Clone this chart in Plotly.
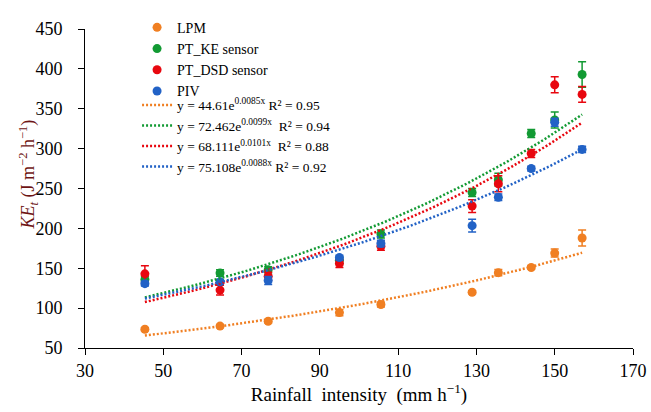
import numpy as np
import plotly.graph_objects as go

# Rainfall intensity (mm h^-1) for each simulated event
intensity = [45.3, 64.5, 76.8, 95.0, 105.6, 128.9, 135.6, 144.0, 150.0, 157.0]

# Kinetic energy flux (J m^-2 h^-1) and error bars per method
lpm = [73.5, 77.5, 83.5, 94.4, 104.5, 119.9, 144.5, 151.0, 169.0, 188.0]
lpm_err = [2, 2, 2, 4, 3, 2, 4, 2, 5, 10]

pt_ke = [136.0, 144.0, 148.0, 160.0, 193.0, 245.0, 261.0, 319.0, 336.0, 393.0]
pt_ke_err = [4, 4, 4, 4, 5, 5, 8, 5, 10, 16]

pt_dsd = [143.0, 122.6, 140.0, 156.0, 177.5, 228.0, 256.0, 294.0, 380.0, 368.0]
pt_dsd_err = [10, 6, 5, 5, 5, 8, 10, 5, 10, 10]

piv = [130.7, 133.0, 134.7, 163.4, 181.0, 203.4, 239.0, 275.0, 333.0, 299.0]
piv_err = [3, 3, 5, 3, 4, 8, 4, 3, 5, 4]

# Exponential trendline coefficients y = a * exp(b x) and R^2
fit_a = [44.61, 72.462, 68.111, 75.108]
fit_b = [0.0085, 0.0099, 0.0101, 0.0088]
fit_a_txt = ["44.61", "72.462", "68.111", "75.108"]
fit_b_txt = ["0.0085", "0.0099", "0.0101", "0.0088"]
fit_r2 = ["0.95", "0.94", "0.88", "0.92"]

names = ["LPM", "PT_KE sensor", "PT_DSD sensor", "PIV"]
series = [lpm, pt_ke, pt_dsd, piv]
errors = [lpm_err, pt_ke_err, pt_dsd_err, piv_err]
colors = ["#F07F22", "#129A33", "#E8070F", "#2262C6"]

FONT = "Liberation Serif"

fig = go.Figure()

for name, ys, err, col in zip(names, series, errors, colors):
    fig.add_trace(go.Scatter(
        x=intensity, y=ys, mode="markers", name=name, legend="legend",
        marker=dict(color=col, size=9),
        error_y=dict(type="data", array=err, visible=True,
                     color=col, thickness=1.5, width=4),
    ))

xs = np.linspace(min(intensity), max(intensity), 120)
gaps = ["\u00a0", "\u00a0\u00a0", "\u00a0\u00a0", "\u00a0"]
for a, b, at, bt, r2, col, gap in zip(fit_a, fit_b, fit_a_txt, fit_b_txt,
                                       fit_r2, colors, gaps):
    label = f"y = {at}e<sup>{bt}x</sup>{gap}R² = {r2}"
    fig.add_trace(go.Scatter(
        x=xs, y=a * np.exp(b * xs), mode="lines", name=label, legend="legend2",
        line=dict(color=col, width=2.5, dash="2px,2px"),
    ))

axis_common = dict(
    showline=True, linecolor="black", linewidth=1,
    ticks="outside", ticklen=6, tickcolor="black",
    showgrid=False, zeroline=False, automargin=False,
    tickfont=dict(family=FONT, size=18, color="black"),
)

legend_common = dict(
    xanchor="left", yanchor="top", bgcolor="rgba(0,0,0,0)", tracegroupgap=0,
)

fig.update_layout(
    width=651, height=412,
    margin=dict(l=85, r=18, t=17, b=64),
    paper_bgcolor="white", plot_bgcolor="white",
    font=dict(family=FONT, color="black"),
    showlegend=True,
    legend=dict(x=0.095, y=1.054,
                font=dict(family=FONT, size=14, color="black"), **legend_common),
    legend2=dict(x=0.095, y=0.810,
                 font=dict(family=FONT, size=13.5, color="black"), **legend_common),
    xaxis=dict(
        range=[30, 170], tick0=30, dtick=20,
        title=dict(text="Rainfall\u00a0\u00a0intensity\u00a0\u00a0(mm h<sup>−1</sup>)",
                   font=dict(family=FONT, size=19, color="black"), standoff=4),
        **axis_common,
    ),
    yaxis=dict(
        range=[50, 450], tick0=50, dtick=50, ticklabelstandoff=12,
        **axis_common,
    ),
    annotations=[dict(
        text="<i>KE<sub>t</sub></i> (J m<sup>−2</sup> h<sup>−1</sup>)",
        xref="paper", yref="paper", x=-0.104, y=0.544,
        xanchor="center", yanchor="middle", textangle=-90, showarrow=False,
        font=dict(family=FONT, size=18, color="#6e1414"),
    )],
)

fig.write_html("out.html")
